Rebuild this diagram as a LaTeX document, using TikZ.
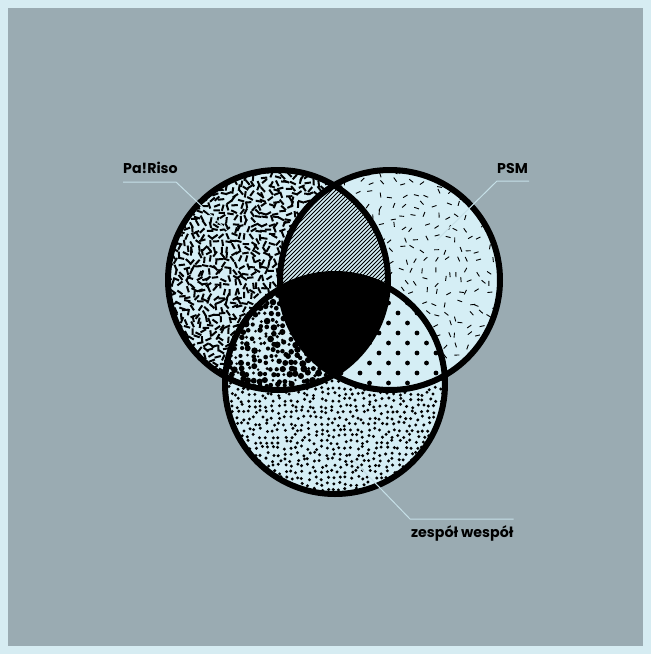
\documentclass[tikz,border=0pt]{standalone}
\usepackage{fontspec}
\setmainfont{Poppins}
\usetikzlibrary{calc}

\definecolor{frameblue}{HTML}{D6ECF2}
\definecolor{slate}{HTML}{9AABB2}
\definecolor{paper}{HTML}{D5EEF5}
\definecolor{leaderblue}{HTML}{C6E0E8}

\begin{document}
\begin{tikzpicture}[
  x=1pt, y=-1pt,
  ring/.style={draw=black, line width=6pt},
  tag/.style={font=\bfseries\fontsize{14.2}{14}\selectfont, inner sep=0pt, anchor=base west},
  leader/.style={draw=leaderblue, line width=1pt},
  thickdash/.style={line width=2pt},
  thindash/.style={line width=0.9pt},
  hatchline/.style={line width=0.8pt}
]
\pgfmathsetseed{12}
\def\rad{110}

% Frame and background
\fill[frameblue] (0,0) rectangle (651,654);
\fill[slate] (8,8) rectangle (643,646);
\useasboundingbox (0,0) rectangle (651,654);

\coordinate (riso) at (278,280);
\coordinate (psm) at (390,280);
\coordinate (zespol) at (335,384);

% Pa!Riso: dense thick dashes
\begin{scope}
  \clip (riso) circle (\rad);
  \fill[paper] (riso) circle (\rad);
  \foreach \i in {0,...,37}{
    \foreach \j in {0,...,37}{
      \pgfmathsetmacro\px{166+6*\i+4.5*rnd}
      \pgfmathsetmacro\py{168+6*\j+4.5*rnd}
      \pgfmathsetmacro\ang{180*rnd}
      \draw[thickdash] (\px,\py) ++(\ang:3.2) -- ++(\ang+180:6.4);
    }
  }
\end{scope}

% PSM: sparse thin dashes
\begin{scope}
  \clip (psm) circle (\rad);
  \fill[paper] (psm) circle (\rad);
  \foreach \i in {0,...,20}{
    \foreach \j in {0,...,20}{
      \pgfmathsetmacro\px{278+11*\i+8*rnd}
      \pgfmathsetmacro\py{168+11*\j+8*rnd}
      \pgfmathsetmacro\ang{180*rnd}
      \draw[thindash] (\px,\py) ++(\ang:2.5) -- ++(\ang+180:5);
    }
  }
\end{scope}

% Pa!Riso and PSM: hatching
\begin{scope}
  \clip (riso) circle (\rad);
  \clip (psm) circle (\rad);
  \fill[paper] (psm) circle (\rad);
  \foreach \k in {150,154,...,410}
    \draw[hatchline] (\k,300) -- ++(140,-140);
\end{scope}

% zespol wespol: small dots
\begin{scope}
  \clip (zespol) circle (\rad);
  \fill[paper] (zespol) circle (\rad);
  \foreach \i in {0,...,37}{
    \foreach \j in {0,...,37}{
      \pgfmathsetmacro\px{223+6*\i+4*rnd}
      \pgfmathsetmacro\py{272+6*\j+4*rnd}
      \fill (\px,\py) circle (1.65);
    }
  }
\end{scope}

% Pa!Riso and zespol wespol: blobs
\begin{scope}
  \clip (riso) circle (\rad);
  \clip (zespol) circle (\rad);
  \fill[paper] (zespol) circle (\rad);
  \foreach \i in {0,...,21}{
    \foreach \j in {0,...,20}{
      \pgfmathsetmacro\px{222+6*\i+4*rnd}
      \pgfmathsetmacro\py{270+6*\j+4*rnd}
      \pgfmathsetmacro\r{1.3+2.2*rnd}
      \fill (\px,\py) circle (\r);
    }
  }
\end{scope}

% PSM and zespol wespol: dot grid
\begin{scope}
  \clip (psm) circle (\rad);
  \clip (zespol) circle (\rad);
  \fill[paper] (zespol) circle (\rad);
  \foreach \j in {0,...,13}{
    \pgfmathsetmacro\off{mod(\j,2)*9.5}
    \foreach \i in {0,...,8}{
      \fill (322+19*\i+\off,273+10*\j) circle (2.4);
    }
  }
\end{scope}

% All three: solid
\begin{scope}
  \clip (riso) circle (\rad);
  \clip (psm) circle (\rad);
  \fill (zespol) circle (\rad);
\end{scope}

% Outlines
\draw[ring] (riso) circle (\rad);
\draw[ring] (psm) circle (\rad);
\draw[ring] (zespol) circle (\rad);

% Labels
\node[tag] (pariso-label) at (123,173) {Pa!Riso};
\node[tag] (psm-label) at (497,173) {PSM};
\node[tag] (zespol-label) at (411,537) {zespół wespół};

\coordinate (pariso-bend) at (176,182);
\coordinate (pariso-end) at (227,230);
\coordinate (psm-bend) at (497,181);
\coordinate (psm-end) at (437,240);
\coordinate (zespol-bend) at (410,519);
\coordinate (zespol-end) at (353,460);

\draw[leader] (pariso-label.west |- pariso-bend) -- (pariso-bend) -- (pariso-end);
\draw[leader] (psm-label.east |- psm-bend) ++(1,0) -- (psm-bend) -- (psm-end);
\draw[leader] (zespol-label.east |- zespol-bend) -- (zespol-bend) -- (zespol-end);

\end{tikzpicture}
\end{document}
